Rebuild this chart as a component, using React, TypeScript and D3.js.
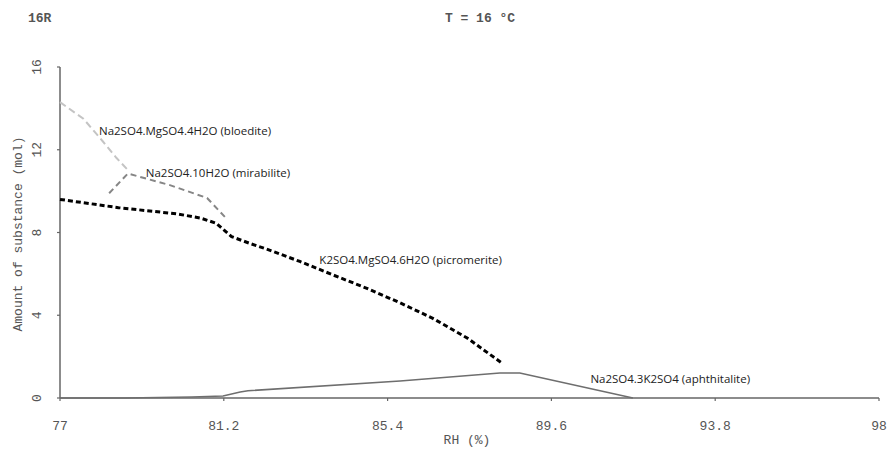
import React from "react";
import * as d3 from "d3";

const W = 887;
const H = 449;

const xTicks = [77, 81.2, 85.4, 89.6, 93.8, 98];
const yTicks = [0, 4, 8, 12, 16];

const bloeditePts: [number, number][] = [
  [77, 14.3], [77.6, 13.5], [78.1, 12.4], [78.45, 11.6], [78.75, 11.0],
];
const mirabilitePts: [number, number][] = [
  [78.26, 9.9], [78.74, 10.85], [79.8, 10.3], [80.77, 9.67], [81.23, 8.75],
];
const picromeritePts: [number, number][] = [
  [77, 9.6], [78.5, 9.2], [80.0, 8.9], [80.6, 8.7], [81.0, 8.45], [81.4, 7.8],
  [81.9, 7.45], [82.3, 7.2], [83.15, 6.6], [84.0, 5.95], [84.87, 5.3],
  [85.72, 4.6], [86.56, 3.85], [87.44, 2.9], [88.33, 1.69],
];
const aphthitalitePts: [number, number][] = [
  [77, 0], [78.67, 0], [80.38, 0.05], [81.18, 0.1], [81.62, 0.29], [81.82, 0.35],
  [85.72, 0.82], [88.28, 1.21], [88.79, 1.21], [91.69, 0],
];

const series = [
  { name: "Na2SO4.MgSO4.4H2O (bloedite)", pts: bloeditePts, color: "#c4c4c4", width: 2, dash: "7,4", lx: 78.0, ly: 12.85 },
  { name: "Na2SO4.10H2O (mirabilite)", pts: mirabilitePts, color: "#868686", width: 2, dash: "6,4", lx: 79.2, ly: 10.85 },
  { name: "K2SO4.MgSO4.6H2O (picromerite)", pts: picromeritePts, color: "#000000", width: 3, dash: "5,3", lx: 83.65, ly: 6.6 },
  { name: "Na2SO4.3K2SO4 (aphthitalite)", pts: aphthitalitePts, color: "#6e6e6e", width: 1.5, dash: "none", lx: 90.6, ly: 0.85 },
];

export default function App() {
  const x = d3.scaleLinear().domain([77, 98]).range([60, 879]);
  const y = d3.scaleLinear().domain([0, 16]).range([398, 67]);
  const line = d3.line<[number, number]>().x((d) => x(d[0])).y((d) => y(d[1]));
  const mono = "'Liberation Mono', 'DejaVu Sans Mono', monospace";
  const sans = "'Open Sans', 'Liberation Sans', sans-serif";
  const axisColor = "#666";
  const textColor = "#555";
  return (
    <svg width={W} height={H} style={{ position: "absolute", left: 0, top: 0, background: "#fff" }}>
      <text x={28} y={22} fontFamily={mono} fontSize={13} fill={textColor} fontWeight="bold">16R</text>
      <text x={480} y={22} fontFamily={mono} fontSize={13} fill={textColor} textAnchor="middle" fontWeight="bold">T = 16 °C</text>

      {/* axes */}
      <line x1={x(77)} x2={x(77)} y1={y(16)} y2={y(0)} stroke={axisColor} strokeWidth={1.5} />
      <line x1={x(77)} x2={x(98)} y1={y(0)} y2={y(0)} stroke={axisColor} strokeWidth={1.5} />
      {yTicks.map((t) => (
        <g key={"y" + t}>
          <line x1={x(77) - 3} x2={x(77)} y1={y(t)} y2={y(t)} stroke={axisColor} strokeWidth={1.2} />
          <text transform={`translate(41,${y(t)}) rotate(-90)`} textAnchor="middle" fontFamily={mono} fontSize={13} fill={textColor}>{t}</text>
        </g>
      ))}
      {xTicks.map((t) => (
        <g key={"x" + t}>
          <line x1={x(t)} x2={x(t)} y1={y(0)} y2={y(0) + 3} stroke={axisColor} strokeWidth={1.2} />
          <text x={x(t)} y={430} textAnchor="middle" fontFamily={mono} fontSize={13} fill={textColor}>{t}</text>
        </g>
      ))}
      <text x={467} y={444} textAnchor="middle" fontFamily={mono} fontSize={13} fill={textColor}>RH (%)</text>
      <text transform={`translate(22,234) rotate(-90)`} textAnchor="middle" fontFamily={mono} fontSize={13} fill={textColor}>Amount of substance (mol)</text>

      {series.map((s) => (
        <path key={s.name} d={line(s.pts) || ""} fill="none" stroke={s.color} strokeWidth={s.width} strokeDasharray={s.dash} />
      ))}
      {series.map((s) => (
        <text key={"l" + s.name} x={x(s.lx)} y={y(s.ly)} dy={3} fontFamily={sans} fontSize={11.5} fill="#222">{s.name}</text>
      ))}
    </svg>
  );
}
